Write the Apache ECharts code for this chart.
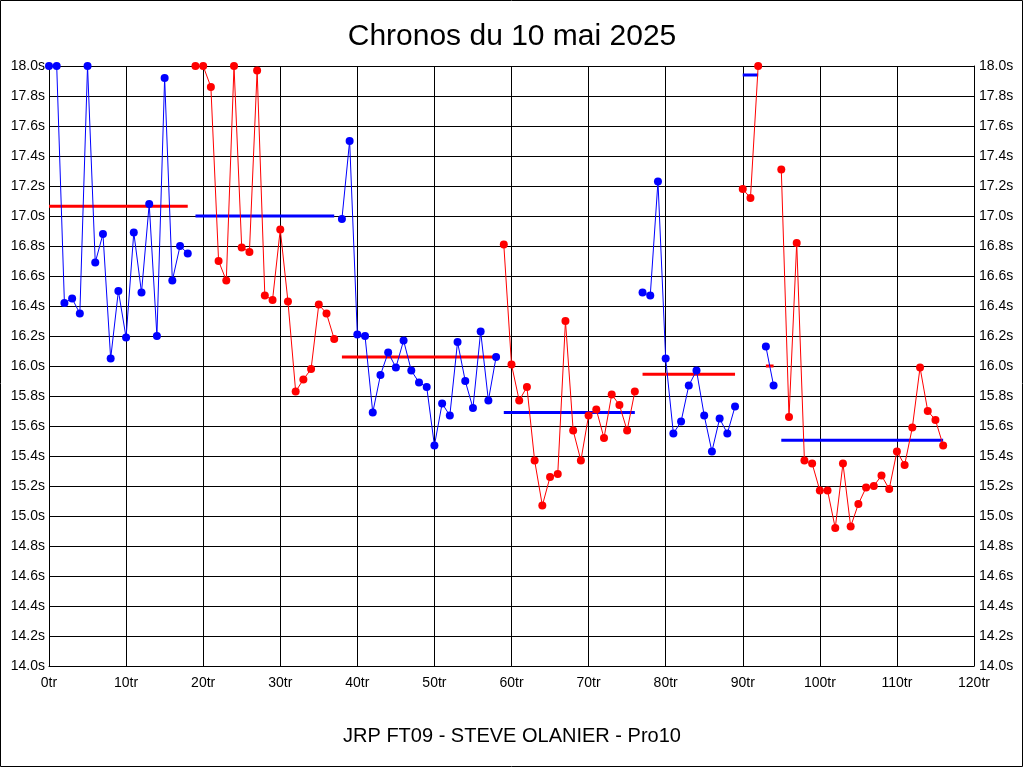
<!DOCTYPE html>
<html>
<head>
<meta charset="utf-8">
<style>
html,body{margin:0;padding:0;background:#fff;}
#c{width:1024px;height:768px;}
</style>
<script src="https://cdn.jsdelivr.net/npm/echarts@6/dist/echarts.min.js"></script>
</head>
<body>
<div id="c"></div>
<script>
// Stint start laps
const stintStarts = [0, 19, 38, 59, 77, 90, 93, 95];
// Lap times per stint (seconds)
const stint1 = [18.0, 18.0, 16.42, 16.45, 16.35, 18.0, 16.69, 16.88, 16.05, 16.50, 16.19, 16.89, 16.49, 17.08, 16.20, 17.92, 16.57, 16.80, 16.75];
const stint2 = [18.0, 18.0, 17.86, 16.70, 16.57, 18.0, 16.79, 16.76, 17.97, 16.47, 16.44, 16.91, 16.43, 15.83, 15.91, 15.98, 16.41, 16.35, 16.18];
const stint3 = [16.98, 17.50, 16.21, 16.20, 15.69, 15.94, 16.09, 15.99, 16.17, 15.97, 15.89, 15.86, 15.47, 15.75, 15.67, 16.16, 15.90, 15.72, 16.23, 15.77, 16.06];
const stint4 = [16.81, 16.01, 15.77, 15.86, 15.37, 15.07, 15.26, 15.28, 16.30, 15.57, 15.37, 15.67, 15.71, 15.52, 15.81, 15.74, 15.57, 15.83];
const stint5 = [16.49, 16.47, 17.23, 16.05, 15.55, 15.63, 15.87, 15.97, 15.67, 15.43, 15.65, 15.55, 15.73];
const stint6 = [17.18, 17.12, 18.0];
const stint7 = [16.13, 15.87];
const stint8 = [17.31, 15.66, 16.82, 15.37, 15.35, 15.17, 15.17, 14.92, 15.35, 14.93, 15.08, 15.19, 15.20, 15.27, 15.18, 15.43, 15.34, 15.59, 15.99, 15.70, 15.64, 15.47];
// Stint average times
const stintAvg = [17.065, 17.00, 16.06, 15.69, 15.945, 17.94, 16.00, 15.505];
// Axis ticks
const xTicks = [0, 10, 20, 30, 40, 50, 60, 70, 80, 90, 100, 110, 120];
const yMin = 14.0, yMax = 18.0, yStep = 0.2;

const stints = [stint1, stint2, stint3, stint4, stint5, stint6, stint7, stint8];
const BLUE = '#0000ff', RED = '#ff0000';

const series = [];
stints.forEach((times, i) => {
  const start = stintStarts[i];
  const col = i % 2 === 0 ? BLUE : RED;
  const avgCol = i % 2 === 0 ? RED : BLUE;
  series.push({
    type: 'line',
    data: times.map((t, k) => [start + k, t]),
    symbol: 'circle',
    symbolSize: 8,
    itemStyle: {color: col},
    lineStyle: {color: col, width: 1},
    animation: false,
    z: 3
  });
  const endLap = start + times.length - 1;
  series.push({
    type: 'line',
    data: [[start, stintAvg[i]], [endLap, stintAvg[i]]],
    symbol: 'none',
    lineStyle: {color: avgCol, width: 3},
    animation: false,
    z: 2
  });
});

const labelFont = {fontFamily: 'Liberation Sans, Arial, sans-serif', fontSize: 14, color: '#000'};
const chart = echarts.init(document.getElementById('c'));
chart.setOption({
  backgroundColor: '#fff',
  animation: false,
  title: [
    {text: 'Chronos du 10 mai 2025', left: 'center', top: 17,
     textStyle: {fontFamily: 'Liberation Sans, Arial, sans-serif', fontSize: 30, fontWeight: 'normal', color: '#000'}},
    {text: 'JRP FT09 - STEVE OLANIER - Pro10', left: 'center', top: 721,
     textStyle: {fontFamily: 'Liberation Sans, Arial, sans-serif', fontSize: 20, fontWeight: 'normal', color: '#000'}}
  ],
  graphic: [{
    type: 'rect', shape: {x: 0.5, y: 0.5, width: 1022, height: 766},
    style: {fill: 'none', stroke: '#000', lineWidth: 1}, silent: true
  }],
  grid: {left: 49, right: 50, top: 66, bottom: 102, containLabel: false},
  xAxis: {
    type: 'value', min: xTicks[0], max: xTicks[xTicks.length - 1], interval: 10,
    axisLine: {show: true, lineStyle: {color: '#000', width: 1}},
    axisTick: {show: false},
    splitLine: {show: true, lineStyle: {color: '#000', width: 1}},
    axisLabel: Object.assign({margin: 10, formatter: v => v + 'tr'}, labelFont)
  },
  yAxis: [{
    type: 'value', min: yMin, max: yMax, interval: yStep, position: 'left',
    axisLine: {show: true, lineStyle: {color: '#000', width: 1}},
    axisTick: {show: false},
    splitLine: {show: true, lineStyle: {color: '#000', width: 1}},
    axisLabel: Object.assign({margin: 4, formatter: v => v.toFixed(1) + 's'}, labelFont)
  }, {
    type: 'value', min: yMin, max: yMax, interval: yStep, position: 'right',
    axisLine: {show: true, lineStyle: {color: '#000', width: 1}},
    axisTick: {show: false},
    splitLine: {show: false},
    axisLabel: Object.assign({margin: 5, formatter: v => v.toFixed(1) + 's'}, labelFont)
  }],
  series: series
});
</script>
</body>
</html>
